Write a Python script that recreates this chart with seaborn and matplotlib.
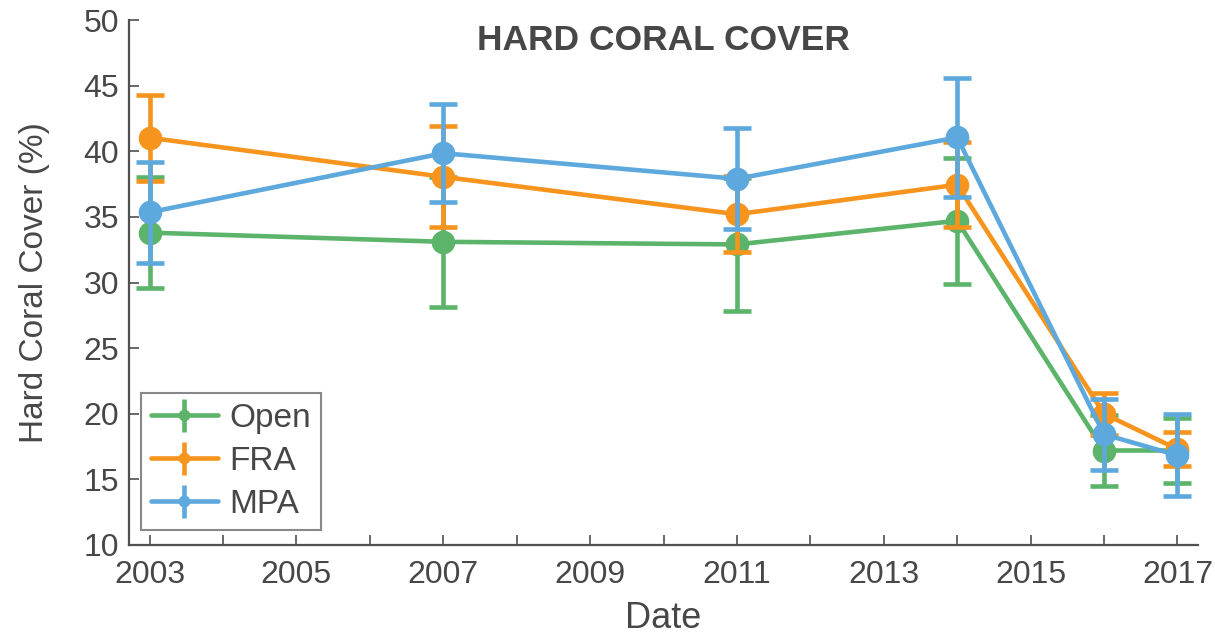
import matplotlib
matplotlib.use("Agg")
import matplotlib.pyplot as plt
import numpy as np
import pandas as pd
import seaborn as sns

# Survey years and hard coral cover (mean and error) per management zone
years = [2003, 2007, 2011, 2014, 2016, 2017]
sites = ["Open", "FRA", "MPA"]
open_cover = [33.8, 33.1, 32.9, 34.7, 17.2, 17.2]
open_err = [4.25, 4.95, 5.05, 4.8, 2.7, 2.45]
fra_cover = [41.03, 38.05, 35.2, 37.45, 20.0, 17.3]
fra_err = [3.28, 3.85, 2.9, 3.25, 1.6, 1.3]
mpa_cover = [35.35, 39.85, 37.9, 41.05, 18.43, 16.83]
mpa_err = [3.85, 3.75, 3.85, 4.55, 2.68, 3.13]
palette = ["#5cb46a", "#f7941d", "#5da8dc"]

x_ticks = list(range(2003, 2018))
x_ticklabels = [str(y) if y % 2 == 1 else "" for y in x_ticks]
y_ticks = [10, 15, 20, 25, 30, 35, 40, 45, 50]

df = pd.DataFrame({
    "year": years * 3,
    "cover": open_cover + fra_cover + mpa_cover,
    "err": open_err + fra_err + mpa_err,
    "site": [s for s in sites for _ in years],
})

sns.set_theme(style="ticks")
text_color = "#474747"
spine_color = "#505050"
plt.rcParams["font.family"] = ["Liberation Sans", "DejaVu Sans"]
plt.rcParams["text.color"] = text_color
plt.rcParams["axes.labelcolor"] = text_color

fig = plt.figure(figsize=(12.15, 6.37), dpi=100)
fig.patch.set_facecolor("white")
ax = fig.add_axes([129 / 1215, 92 / 637, 1069 / 1215, 525 / 637])

lw = 3.3
ms = 17
cap = 10
for site, color in zip(sites, palette):
    sub = df[df["site"] == site]
    sns.lineplot(data=sub, x="year", y="cover", color=color, linewidth=lw,
                 marker="o", markersize=ms, markeredgewidth=0, ax=ax,
                 legend=False)
    ax.errorbar(sub["year"], sub["cover"], yerr=sub["err"], fmt="none",
                ecolor=color, elinewidth=lw, capsize=cap, capthick=lw)

# legend entries showing line, marker and error bar together
handles = []
for site, color in zip(sites, palette):
    h = ax.errorbar([], [], yerr=[], fmt="-o", color=color, linewidth=lw,
                    markersize=ms, markeredgewidth=0, elinewidth=lw,
                    capsize=cap, capthick=lw, label=site)
    handles.append(h)

leg = ax.legend(handles=handles, labels=sites, loc="lower left",
                bbox_to_anchor=(12 / 1069, 15 / 525), borderaxespad=0,
                fontsize=24, markerscale=0.5, handlelength=2.0,
                handletextpad=0.35, borderpad=0.3, labelspacing=0.36,
                frameon=True, fancybox=False, framealpha=1)
leg.get_frame().set_edgecolor("#888888")
leg.get_frame().set_linewidth(1.5)
for t in leg.get_texts():
    t.set_color(text_color)

ax.set_xlim(2002.72, 2017.28)
ax.set_ylim(10, 50)
ax.set_xticks(x_ticks)
ax.set_xticklabels(x_ticklabels)
ax.set_yticks(y_ticks)

ax.tick_params(direction="in", length=7.5, width=1.2, colors=spine_color,
               labelcolor=text_color, labelsize=23)
ax.tick_params(axis="x", pad=11)
ax.tick_params(axis="y", pad=7)

for side in ["top", "right"]:
    ax.spines[side].set_visible(False)
for side in ["left", "bottom"]:
    ax.spines[side].set_color(spine_color)
    ax.spines[side].set_linewidth(1.6)

ax.set_xlabel("Date", fontsize=26, labelpad=8)
ax.set_ylabel("Hard Coral Cover (%)", fontsize=24, labelpad=24)
ax.text(0.5, 0.943, "HARD CORAL COVER", transform=ax.transAxes,
        ha="center", va="baseline", fontsize=25.5, fontweight="bold",
        color=text_color)

fig.savefig("out.png", dpi=100, facecolor="white")
